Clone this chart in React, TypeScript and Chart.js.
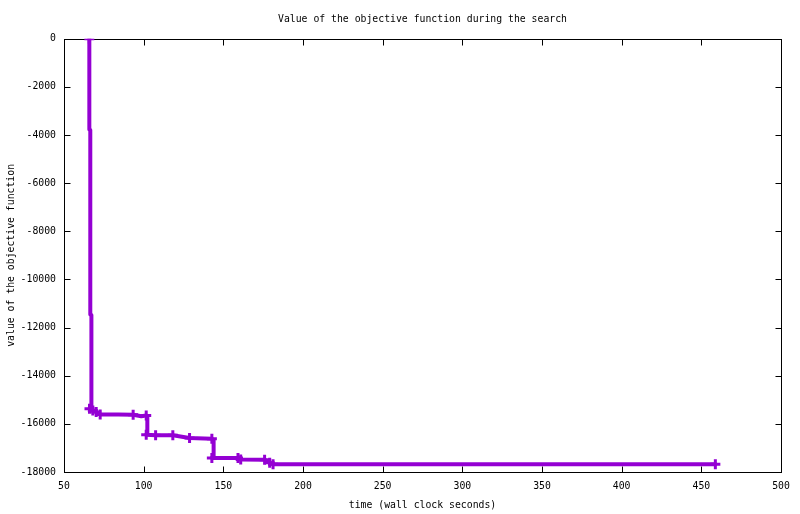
import React, { useEffect, useRef } from "react";
import { Chart, registerables } from "chart.js";

Chart.register(...registerables);

const timeSeconds: number[] = [
  65.9, 65.9, 66.5, 66.5, 67.2, 67.2, 66.0, 68.1, 70.2, 72.7, 84.0, 93.4, 98.5, 101.6, 102.3,
  102.3, 101.6, 107.5, 118.3, 128.8, 142.8, 143.9, 143.9, 142.8, 159.2, 160.9, 175.9, 179.1,
  181.2, 458.8,
];
const objectiveValues: number[] = [
  0, -3770, -3790, -11460, -11480, -15300, -15370, -15440, -15510, -15610, -15615, -15620,
  -15680, -15650, -15690, -16440, -16450, -16475, -16475, -16585, -16620, -16690, -17390,
  -17415, -17420, -17485, -17490, -17620, -17675, -17675,
];
const hasMarker: boolean[] = [
  true, false, false, false, false, false, true, true, true, true, false, true, false, true,
  false, false, true, true, true, true, true, false, false, true, true, true, true, true, true,
  true,
];

const xTickMin = 50;
const xTickMax = 500;
const xTickStep = 50;
const yTickMin = -18000;
const yTickMax = 0;
const yTickStep = 2000;

const titleText = "Value of the objective function during the search";
const xLabel = "time (wall clock seconds)";
const yLabel = "value of the objective function";

const FONT = "'DejaVu Sans Mono', 'Liberation Mono', monospace";
const LINE_COLOR = "#9400D3";

const framePlugin = {
  id: "gnuplotFrame",
  beforeDatasetsDraw(chart: any) {
    const { ctx, chartArea } = chart;
    const xs = chart.scales.x;
    const ys = chart.scales.y;
    const l = Math.round(chartArea.left) + 0.5;
    const r = Math.round(chartArea.right) + 0.5;
    const t = Math.round(chartArea.top) + 0.5;
    const b = Math.round(chartArea.bottom) + 0.5;
    const tl = 6;
    ctx.save();
    ctx.strokeStyle = "#000";
    ctx.lineWidth = 1;
    ctx.beginPath();
    xs.ticks.forEach((tk: any) => {
      const px = Math.round(xs.getPixelForValue(tk.value)) + 0.5;
      ctx.moveTo(px, b);
      ctx.lineTo(px, b - tl);
      ctx.moveTo(px, t);
      ctx.lineTo(px, t + tl);
    });
    ys.ticks.forEach((tk: any) => {
      const py = Math.round(ys.getPixelForValue(tk.value)) + 0.5;
      ctx.moveTo(l, py);
      ctx.lineTo(l + tl, py);
      ctx.moveTo(r, py);
      ctx.lineTo(r - tl, py);
    });
    ctx.stroke();
    ctx.strokeRect(l, t, r - l, b - t);
    ctx.restore();
  },
};

export default function App() {
  const canvasRef = useRef<HTMLCanvasElement | null>(null);

  useEffect(() => {
    if (!canvasRef.current) return;
    const points = timeSeconds.map((x, i) => ({ x, y: objectiveValues[i] }));
    const radii = hasMarker.map((m) => (m ? 5 : 0));
    const chart = new Chart(canvasRef.current, {
      type: "line",
      data: {
        datasets: [
          {
            data: points,
            borderColor: LINE_COLOR,
            backgroundColor: LINE_COLOR,
            borderWidth: 4,
            borderJoinStyle: "round",
            borderCapStyle: "round",
            pointStyle: "cross",
            pointRadius: radii,
            pointHoverRadius: radii,
            pointBorderWidth: 3,
            pointBorderColor: LINE_COLOR,
            tension: 0,
            fill: false,
          } as any,
        ],
      },
      options: {
        animation: false,
        responsive: false,
        devicePixelRatio: 1,
        layout: { padding: { left: 0, right: 19, top: 0, bottom: 0 } },
        plugins: {
          legend: { display: false },
          tooltip: { enabled: false },
          title: {
            display: true,
            text: titleText,
            fullSize: false,
            color: "#000",
            font: { family: FONT, size: 9.8, weight: "normal" as any, lineHeight: 1.2 },
            padding: { top: 14, bottom: 13 },
          },
        },
        scales: {
          x: {
            type: "linear",
            min: xTickMin,
            max: xTickMax,
            grid: { display: false, drawTicks: false },
            border: { display: false },
            ticks: {
              stepSize: xTickStep,
              color: "#000",
              padding: 9,
              maxRotation: 0,
              font: { family: FONT, size: 9.8 },
              callback: (v: any) => String(v),
            },
            title: {
              display: true,
              text: xLabel,
              color: "#000",
              font: { family: FONT, size: 9.8, lineHeight: 1.2 },
              padding: { top: 0, bottom: 3 },
            },
            afterFit(scale: any) {
              scale.height = 42;
            },
          },
          y: {
            type: "linear",
            min: yTickMin,
            max: yTickMax,
            grid: { display: false, drawTicks: false },
            border: { display: false },
            ticks: {
              stepSize: yTickStep,
              color: "#000",
              padding: 8,
              font: { family: FONT, size: 9.8 },
              callback: (v: any) => String(v),
            },
            title: {
              display: true,
              text: yLabel,
              color: "#000",
              font: { family: FONT, size: 9.8, lineHeight: 1.2 },
              padding: { top: 6, bottom: 0 },
            },
            afterFit(scale: any) {
              scale.width = 64;
            },
          },
        },
      },
      plugins: [framePlugin],
    });
    return () => chart.destroy();
  }, []);

  return (
    <div style={{ position: "fixed", left: 0, top: 0, width: 800, height: 514, background: "#fff" }}>
      <canvas ref={canvasRef} width={800} height={514} style={{ display: "block" }} />
    </div>
  );
}
